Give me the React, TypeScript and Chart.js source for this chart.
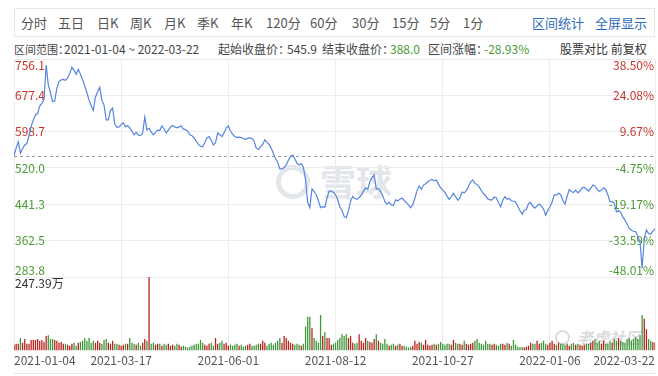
import React, { useEffect, useRef } from "react";
import { Chart, registerables } from "chart.js";

Chart.register(...registerables);

// ---------------- data ----------------
const START_PRICE = 545.9;
const END_PRICE = "388.0";
const RANGE_CHANGE = "-28.93%";
const RANGE_START = "2021-01-04";
const RANGE_END = "2022-03-22";

const TABS = ["分时", "五日", "日K", "周K", "月K", "季K", "年K", "120分", "60分", "30分", "15分", "5分", "1分"];
const LINKS = ["区间统计", "全屏显示"];

const X_TICK_INDEX = [0, 50, 100, 150, 200, 250, 299];
const X_TICK_LABELS = ["2021-01-04", "2021-03-17", "2021-06-01", "2021-08-12", "2021-10-27", "2022-01-06", "2022-03-22"];

const Y_TICKS = [283.8, 362.5, 441.3, 520.0, 598.7, 677.4, 756.1];
const Y_LEFT_LABELS = ["283.8", "362.5", "441.3", "520.0", "598.7", "677.4", "756.1"];
const Y_RIGHT_LABELS = ["-48.01%", "-33.59%", "-19.17%", "-4.75%", "9.67%", "24.08%", "38.50%"];

const VOLUME_MAX = 247.39;

// daily close (前复权), 2021-01-04 .. 2022-03-22
const PRICE_CLOSE = [
  545.9, 563, 577, 552, 562, 570, 573, 590, 610, 624,
  635, 638, 654, 660, 668, 743, 700, 683, 664, 665,
  693, 707, 711, 712, 710, 715, 725, 738, 732, 723,
  734, 723, 711, 698, 683, 667, 655, 645, 674, 685,
  695, 667, 656, 624, 624, 645, 650, 615, 608, 609,
  614, 618, 609, 612, 607, 600, 592, 597, 591, 590,
  596, 630, 603, 606, 598, 592, 597, 602, 601, 611,
  605, 596, 602, 609, 612, 609, 607, 609, 611, 604,
  603, 600, 592, 590, 585, 578, 571, 567, 566, 575,
  585, 588, 580, 570, 575, 596, 592, 588, 596, 607,
  611, 600, 593, 588, 586, 587, 586, 584, 582, 584,
  585, 584, 578, 563, 560, 566, 571, 581, 576, 571,
  563, 551, 540, 533, 518, 518, 521, 526, 537, 545,
  548, 540, 530, 527, 529, 521, 495, 445, 434, 475,
  469, 462, 449, 434, 436, 435, 455, 470, 470, 467,
  462, 451, 436, 428, 415, 412, 428, 448, 458, 454,
  452, 456, 461, 470, 477, 474, 490, 499, 505, 474,
  475, 469, 460, 447, 441, 446, 440, 439, 451, 449,
  452, 455, 450, 445, 440, 434, 440, 455, 471, 481,
  474, 483, 486, 490, 493, 495, 492, 494, 485, 477,
  472, 467, 459, 452, 458, 465, 458, 450, 455, 468,
  466, 471, 480, 490, 494, 487, 484, 479, 471, 464,
  460, 453, 451, 451, 457, 455, 445, 436, 450, 458,
  452, 454, 449, 448, 446, 437, 428, 420, 429, 430,
  443, 445, 437, 433, 438, 442, 438, 431, 418, 428,
  436, 446, 462, 461, 465, 462, 450, 442, 458, 473,
  469, 467, 472, 466, 470, 477, 478, 474, 470, 476,
  483, 481, 474, 469, 472, 477, 474, 462, 447, 447,
  444, 425, 428, 424, 414, 407, 398, 389, 385, 383,
  382, 372, 360, 303, 366, 386, 378, 377, 383, 388.0,
];

// daily volume (万)
const VOLUME = [
  20, 23, 23, 42, 26, 39, 23, 23, 36, 36,
  36, 39, 33, 36, 29, 49, 52, 39, 39, 36,
  33, 26, 29, 23, 23, 20, 16, 23, 26, 16,
  26, 29, 33, 42, 33, 42, 26, 33, 26, 33,
  26, 23, 36, 39, 26, 23, 33, 23, 23, 20,
  16, 20, 23, 23, 42, 26, 23, 20, 26, 16,
  26, 39, 33, 247.39, 23, 26, 20, 23, 23, 16,
  23, 20, 23, 16, 20, 16, 23, 20, 13, 16,
  13, 10, 13, 16, 20, 23, 23, 36, 26, 20,
  16, 23, 26, 16, 42, 23, 26, 33, 23, 26,
  16, 20, 16, 20, 23, 16, 20, 13, 16, 20,
  23, 16, 16, 20, 23, 23, 33, 26, 16, 23,
  26, 20, 26, 33, 42, 26, 49, 42, 33, 26,
  23, 20, 23, 20, 16, 23, 81, 114, 114, 75,
  42, 33, 26, 120, 49, 62, 42, 42, 20, 23,
  26, 36, 42, 55, 49, 55, 42, 49, 26, 23,
  26, 55, 33, 26, 42, 33, 29, 26, 39, 55,
  33, 26, 23, 39, 23, 16, 20, 23, 16, 20,
  23, 16, 16, 13, 10, 13, 16, 33, 23, 29,
  26, 20, 36, 20, 16, 20, 23, 20, 23, 29,
  23, 20, 23, 23, 20, 36, 26, 23, 23, 20,
  33, 23, 20, 23, 26, 33, 39, 26, 23, 20,
  33, 23, 23, 20, 23, 20, 16, 23, 23, 20,
  26, 23, 16, 36, 20, 13, 10, 13, 10, 13,
  16, 26, 23, 23, 33, 23, 26, 33, 23, 20,
  26, 33, 23, 20, 26, 23, 23, 20, 23, 16,
  23, 26, 20, 23, 20, 16, 20, 23, 23, 26,
  33, 39, 26, 33, 23, 33, 23, 23, 33, 26,
  39, 33, 42, 33, 29, 26, 39, 42, 33, 39,
  46, 39, 52, 120, 107, 72, 39, 33, 29, 26,
];

// ---------------- style ----------------
const FONT = '"Noto Sans CJK SC", "Noto Sans", sans-serif';
const RED = "#c6352c";
const GREEN = "#4a9a34";
const BAR_RED = "#b8221c";
const BAR_GREEN = "#3e9638";
const LINE_BLUE = "#5585e0";
const GRID = "#ececec";
const TAB_X = [21, 58, 97, 130, 164, 197, 231, 266, 310, 352, 392, 430, 463];
const LINK_X = [532, 595];

export default function App() {
  const priceRef = useRef<HTMLCanvasElement | null>(null);
  const volRef = useRef<HTMLCanvasElement | null>(null);

  useEffect(() => {
    const prevMargin = document.body.style.margin;
    document.body.style.margin = "0";
    const n = PRICE_CLOSE.length;
    const idx = PRICE_CLOSE.map((_, i) => i);

    const xTicks = (axis: any) => {
      axis.ticks = X_TICK_INDEX.map((v) => ({ value: v }));
    };

    const priceDecor = {
      id: "priceDecor",
      beforeDatasetsDraw(chart: any) {
        const { ctx, chartArea, scales } = chart;
        const y = scales.y;
        ctx.save();
        const sy = Math.round(y.getPixelForValue(START_PRICE)) + 0.5;
        ctx.strokeStyle = "#9a9a9a";
        ctx.lineWidth = 1;
        ctx.setLineDash([3, 3]);
        ctx.beginPath();
        ctx.moveTo(chartArea.left, sy);
        ctx.lineTo(chartArea.right, sy);
        ctx.stroke();
        ctx.setLineDash([]);
        ctx.font = `12px ${FONT}`;
        Y_TICKS.forEach((v, i) => {
          const py = y.getPixelForValue(v);
          const first = i === 0;
          const last = i === Y_TICKS.length - 1;
          ctx.textBaseline = last ? "top" : first ? "bottom" : "middle";
          const dy = last ? 0 : first ? -1 : 0;
          ctx.fillStyle = v > START_PRICE ? RED : GREEN;
          ctx.textAlign = "left";
          ctx.fillText(Y_LEFT_LABELS[i], chartArea.left + 1, py + dy);
          ctx.textAlign = "right";
          ctx.fillText(Y_RIGHT_LABELS[i], chartArea.right - 1, py + dy);
        });
        ctx.restore();
      },
    };

    const volDecor = {
      id: "volDecor",
      afterDatasetsDraw(chart: any) {
        const { ctx, chartArea, scales } = chart;
        const y = scales.y;
        ctx.save();
        ctx.font = `12px ${FONT}`;
        ctx.fillStyle = "#333";
        ctx.textAlign = "left";
        ctx.textBaseline = "top";
        ctx.fillText(VOLUME_MAX.toFixed(2) + "万", chartArea.left + 1, y.getPixelForValue(VOLUME_MAX));
        ctx.restore();
      },
    };

    const priceChart = new Chart(priceRef.current as HTMLCanvasElement, {
      type: "line",
      data: {
        labels: idx,
        datasets: [
          {
            data: PRICE_CLOSE,
            borderColor: LINE_BLUE,
            borderWidth: 1.2,
            pointRadius: 0,
            tension: 0,
            fill: false,
          },
        ],
      },
      options: {
        responsive: false,
        animation: false,
        events: [],
        layout: { padding: { left: 14, right: 3, top: 59, bottom: 3 } },
        plugins: { legend: { display: false }, tooltip: { enabled: false } },
        scales: {
          x: {
            type: "linear",
            min: 0,
            max: n - 1,
            offset: false,
            afterBuildTicks: xTicks,
            grid: { color: GRID, drawTicks: false },
            border: { display: false },
            ticks: { display: false },
          },
          y: {
            type: "linear",
            min: Y_TICKS[0],
            max: Y_TICKS[Y_TICKS.length - 1],
            afterBuildTicks: (axis: any) => {
              axis.ticks = Y_TICKS.map((v) => ({ value: v }));
            },
            grid: { color: GRID, drawTicks: false },
            border: { display: false },
            ticks: { display: false },
          },
        },
      } as any,
      plugins: [priceDecor],
    });

    const barColors = VOLUME.map((_, i) => {
      const prev = i === 0 ? START_PRICE - 1 : PRICE_CLOSE[i - 1];
      return PRICE_CLOSE[i] >= prev ? BAR_RED : BAR_GREEN;
    });

    const volChart = new Chart(volRef.current as HTMLCanvasElement, {
      type: "bar",
      data: {
        labels: idx,
        datasets: [
          {
            data: VOLUME,
            backgroundColor: barColors,
            barPercentage: 0.6,
            categoryPercentage: 1,
            grouped: false,
          },
        ],
      },
      options: {
        responsive: false,
        animation: false,
        events: [],
        layout: { padding: { left: 14, right: 3, top: 0, bottom: 5 } },
        plugins: { legend: { display: false }, tooltip: { enabled: false } },
        scales: {
          x: {
            type: "linear",
            min: 0,
            max: n - 1,
            offset: false,
            afterBuildTicks: xTicks,
            grid: { color: GRID, drawTicks: false, offset: false },
            border: { display: false },
            ticks: {
              display: true,
              align: "inner",
              autoSkip: false,
              maxRotation: 0,
              padding: 3,
              color: "#555",
              font: { family: FONT, size: 12 },
              callback: (v: any) => {
                const k = X_TICK_INDEX.indexOf(Number(v));
                return k >= 0 ? X_TICK_LABELS[k] : "";
              },
            },
          },
          y: { display: false, min: 0, max: VOLUME_MAX },
        },
      } as any,
      plugins: [volDecor],
    });

    return () => {
      priceChart.destroy();
      volChart.destroy();
      document.body.style.margin = prevMargin;
    };
  }, []);

  const abs = (s: React.CSSProperties): React.CSSProperties => ({ position: "absolute", whiteSpace: "nowrap", ...s });
  const info = (left: number, color: string = "#444", size: number = 12): React.CSSProperties =>
    abs({ left, top: 41, fontSize: size, lineHeight: "16px", color });

  return (
    <div style={{ position: "fixed", left: 0, top: 0, width: 658, height: 376, background: "#fff", fontFamily: FONT, overflow: "hidden" }}>
      {/* toolbar */}
      <div style={abs({ left: 14, top: 8, width: 641, height: 29, border: "1px solid #e8e8e8", boxSizing: "border-box" })} />
      {TABS.map((t, i) => (
        <span key={t} style={abs({ left: TAB_X[i], top: 14, fontSize: 13, lineHeight: "18px", color: "#555" })}>{t}</span>
      ))}
      {LINKS.map((t, i) => (
        <span key={t} style={abs({ left: LINK_X[i], top: 14, fontSize: 13, lineHeight: "18px", color: "#2f6bbd" })}>{t}</span>
      ))}
      {/* info row */}
      <span style={info(14, "#444", 11)}>区间范围：</span>
      <span style={info(64)}>{RANGE_START} ~ {RANGE_END}</span>
      <span style={info(218)}>起始收盘价：</span>
      <span style={info(287)}>{START_PRICE.toFixed(1)}</span>
      <span style={info(322)}>结束收盘价：</span>
      <span style={info(390, GREEN)}>{END_PRICE}</span>
      <span style={info(428)}>区间涨幅：</span>
      <span style={info(484, GREEN)}>{RANGE_CHANGE}</span>
      <span style={info(560, "#333")}>股票对比 前复权</span>
      {/* watermarks */}
      <div style={abs({ left: 276, top: 165, width: 34, height: 34, borderRadius: "50%", border: "5px solid #e3e6eb", boxSizing: "border-box" })} />
      <span style={abs({ left: 320, top: 160, fontSize: 36, lineHeight: "40px", fontWeight: 700, color: "#e3e6eb" })}>雪球</span>
      <div style={abs({ left: 555, top: 330, width: 15, height: 15, borderRadius: "50%", border: "2px solid #dcdcdc", boxSizing: "border-box" })} />
      <span style={abs({ left: 577, top: 327, fontSize: 16, lineHeight: "20px", fontStyle: "italic", fontWeight: 700, color: "#dcdcdc" })}>老虎社区</span>
      {/* bottom line */}
      <div style={abs({ left: 14, top: 373, width: 641, height: 1, background: "#e6e6e6" })} />
      <canvas ref={priceRef} width={658} height={280} style={{ position: "absolute", left: 0, top: 0 }} />
      <canvas ref={volRef} width={658} height={99} style={{ position: "absolute", left: 0, top: 277 }} />
    </div>
  );
}
